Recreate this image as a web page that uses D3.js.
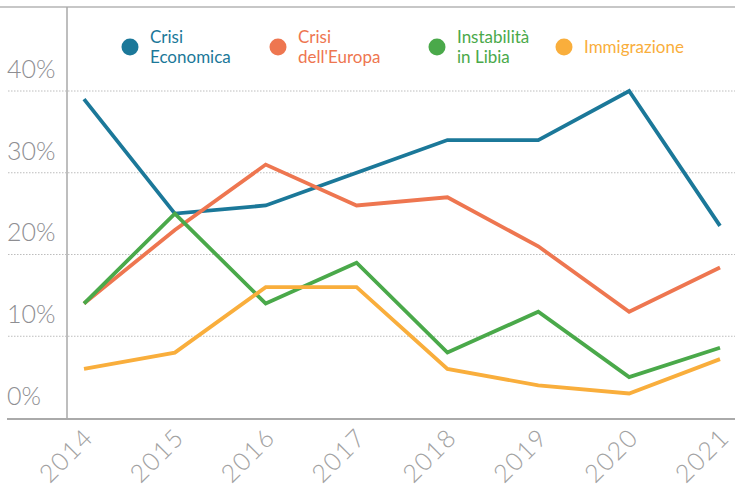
<!DOCTYPE html>
<html>
<head>
<meta charset="utf-8">
<script src="https://cdn.jsdelivr.net/npm/d3@7"></script>
<style>
  body { margin: 0; background: #fff; }
  svg { display: block; font-family: Lato, "Open Sans", sans-serif; }
</style>
</head>
<body>
<script>
// data
var years = ["2014", "2015", "2016", "2017", "2018", "2019", "2020", "2021"];
var crisiEconomica = [39, 25, 26, 30, 34, 34, 40, 23.5];
var crisiEuropa = [14, 23, 31, 26, 27, 21, 13, 18.4];
var instabilitaLibia = [14, 25, 14, 19, 8, 13, 5, 8.6];
var immigrazione = [6, 8, 16, 16, 6, 4, 3, 7.2];
var yTicks = [0, 10, 20, 30, 40];

var series = [
  { name: ["Crisi", "Economica"], values: crisiEconomica, color: "#1b7899", lx: 130 },
  { name: ["Crisi", "dell'Europa"], values: crisiEuropa, color: "#ee7650", lx: 278 },
  { name: ["Instabilità", "in Libia"], values: instabilitaLibia, color: "#4aa94a", lx: 437 },
  { name: ["Immigrazione"], values: immigrazione, color: "#f9ae3c", lx: 564 }
];

var W = 735, H = 496;

var x = d3.scalePoint().domain(years).range([84, 720]);
var y = d3.scaleLinear().domain([0, 40]).range([418, 91]);

var svg = d3.select("body").append("svg")
    .attr("width", W)
    .attr("height", H);

// frame lines
svg.append("line")
    .attr("x1", 0).attr("x2", W)
    .attr("y1", 7).attr("y2", 7)
    .attr("stroke", "#b5b5b5").attr("stroke-width", 1.5);

svg.append("line")
    .attr("x1", 67).attr("x2", 67)
    .attr("y1", 7).attr("y2", y(0))
    .attr("stroke", "#a8a8a8").attr("stroke-width", 1.5);

// dotted gridlines
svg.append("g").selectAll("line")
    .data(yTicks.filter(function(d) { return d > 0; }))
  .enter().append("line")
    .attr("x1", 8).attr("x2", W)
    .attr("y1", function(d) { return y(d); })
    .attr("y2", function(d) { return y(d); })
    .attr("stroke", "#bdbdbd")
    .attr("stroke-width", 1)
    .attr("stroke-dasharray", "1.5,1.5");

// bottom axis line
svg.append("line")
    .attr("x1", 7).attr("x2", W)
    .attr("y1", y(0) + 1).attr("y2", y(0) + 1)
    .attr("stroke", "#aaa").attr("stroke-width", 2);

// y labels (sit above their gridlines)
svg.append("g").selectAll("text")
    .data(yTicks)
  .enter().append("text")
    .attr("x", 7)
    .attr("y", function(d) { return y(d) - 22; })
    .attr("dy", "0.35em")
    .attr("fill", "#8e8e92")
    .style("font-size", "25px")
    .style("font-weight", 300)
    .text(function(d) { return d + "%"; });

// x labels, rotated
svg.append("g").selectAll("text")
    .data(years)
  .enter().append("text")
    .attr("transform", function(d) { return "translate(" + (x(d) + 11) + ",439) rotate(-45)"; })
    .attr("text-anchor", "end")
    .attr("fill", "#a2a2a2")
    .style("font-size", "25px")
    .style("font-weight", 300)
    .style("letter-spacing", "1.5px")
    .text(function(d) { return d; });

// lines
var line = d3.line()
    .x(function(d, i) { return x(years[i]); })
    .y(function(d) { return y(d); });

svg.append("g").selectAll("path")
    .data(series)
  .enter().append("path")
    .attr("fill", "none")
    .attr("stroke", function(d) { return d.color; })
    .attr("stroke-width", 3.8)
    .attr("stroke-linejoin", "miter")
    .attr("d", function(d) { return line(d.values); });

// legend
var legend = svg.append("g").selectAll("g")
    .data(series)
  .enter().append("g")
    .attr("transform", function(d) { return "translate(" + d.lx + ",47)"; });

legend.append("circle")
    .attr("r", 8.5)
    .attr("fill", function(d) { return d.color; });

legend.append("text")
    .attr("x", 20)
    .attr("fill", function(d) { return d.color; })
    .style("font-size", "17px")
    .selectAll("tspan")
    .data(function(d) { return d.name.map(function(n, i) { return { n: n, i: i, len: d.name.length }; }); })
  .enter().append("tspan")
    .attr("x", 20)
    .attr("y", function(d) { return d.len === 1 ? 0 : (d.i === 0 ? -10 : 10); })
    .attr("dy", "0.35em")
    .text(function(d) { return d.n; });
</script>
</body>
</html>
